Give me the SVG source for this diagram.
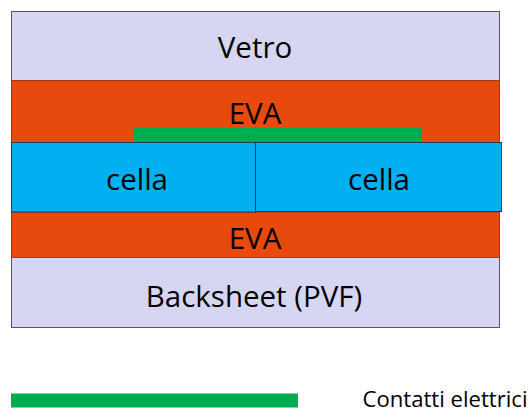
<svg xmlns="http://www.w3.org/2000/svg" width="531" height="412" viewBox="0 0 531 412">
<style>
.t{font-family:"Open Sans","Liberation Sans",sans-serif;fill:#000;text-anchor:middle}
.big{font-size:29.5px}
.lav{fill:#D6D6F3;stroke:#55556a;stroke-width:1}
.eva{fill:#E8490C;stroke:#9a3a18;stroke-width:1}
.cell{fill:#00B0F0;stroke:#1f3a5a;stroke-width:1}
.green{fill:#00AC50}
</style>
<rect width="531" height="412" fill="#fff"/>
<g id="vetro"><rect class="lav" x="11.5" y="11.5" width="488" height="69"/><text class="t big" x="255" y="58">Vetro</text></g>
<g id="eva-top"><rect class="eva" x="11.5" y="80.5" width="488" height="62"/><text class="t big" x="255" y="124">EVA</text></g>
<g id="contatto"><rect class="green" x="133" y="128" width="288" height="14"/></g>
<g id="eva-bottom"><rect class="eva" x="11.5" y="212" width="488" height="45.5"/><text class="t big" x="255" y="249">EVA</text></g>
<g id="cella-sx"><rect class="cell" x="11.5" y="142.5" width="244" height="69.5"/><text class="t big" x="137" y="190">cella</text></g>
<g id="cella-dx"><rect class="cell" x="255.5" y="142.5" width="246" height="69"/><text class="t big" x="379" y="190">cella</text></g>
<g id="backsheet"><rect class="lav" x="11.5" y="257.5" width="488" height="70"/><text class="t big" x="254" y="307">Backsheet (PVF)</text></g>
<g id="legenda"><rect class="green" x="11" y="393.5" width="287" height="14"/><text class="t" x="362.5" y="407" style="text-anchor:start;font-size:21px" textLength="165" lengthAdjust="spacingAndGlyphs">Contatti elettrici</text></g>
</svg>
